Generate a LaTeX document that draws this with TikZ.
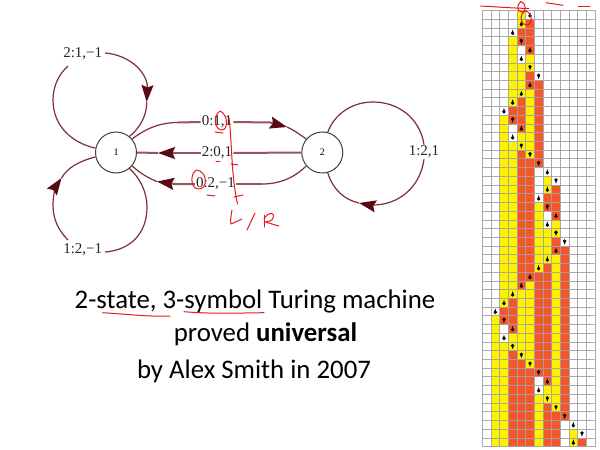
\documentclass[tikz,border=0pt]{standalone}
\usepackage{fontspec}
\setmainfont{Carlito}
\newfontfamily\labfont{Liberation Serif}
\usetikzlibrary{arrows.meta}
\definecolor{cellY}{HTML}{FFF200}
\definecolor{cellO}{HTML}{F4562A}
\definecolor{cellW}{HTML}{FFFFFF}
\definecolor{gridgrey}{HTML}{A3A3A3}
\definecolor{maroon}{HTML}{7E2F38}
\definecolor{maroonlight}{HTML}{96555D}
\definecolor{tipdark}{HTML}{5A0A12}
\definecolor{ink}{HTML}{E8181C}
\tikzset{
  statenode/.style={circle,draw=black!75,line width=1pt,minimum size=41pt,inner sep=0pt,font=\labfont\fontsize{10}{10}\selectfont,fill=white},
  edgelabel/.style={inner sep=1pt,text=black!85,font=\labfont\fontsize{15}{15}\selectfont},
  edge/.style={draw=maroon,line width=1.2pt},
  thickedge/.style={draw=maroonlight,line width=2pt},
  tipped/.style={-{Stealth[length=17pt,width=12pt,inset=2.5pt,color=tipdark]}},
  pen/.style={draw=ink,line width=1pt,line cap=round,line join=round},
  caption/.style={inner sep=0pt,anchor=base,font=\fontsize{26.8}{26.8}\selectfont,text=black}
}
\newcommand{\gridrow}[4]{%
  \foreach \cc/\kk in {#2}{%
    \fill[cell\kk] ({482.3+8.67*\cc},{10.7+8.72*#1}) rectangle ++(8.67,8.72);
  }%
  \ifnum#4=1
    \fill[black,shift={({482.3+8.67*(#3+0.5)},{10.7+8.72*(#1+0.5)})}] (0,-0.8) circle (1.8);
    \fill[black,shift={({482.3+8.67*(#3+0.5)},{10.7+8.72*(#1+0.5)})}] (-1.4,-1.2) -- (0,3) -- (1.4,-1.2) -- cycle;
  \else
    \fill[black,shift={({482.3+8.67*(#3+0.5)},{10.7+8.72*(#1+0.5)})}] (0,0.8) circle (1.8);
    \fill[black,shift={({482.3+8.67*(#3+0.5)},{10.7+8.72*(#1+0.5)})}] (-1.4,1.2) -- (0,-3) -- (1.4,1.2) -- cycle;
  \fi
}
\begin{document}
\begin{tikzpicture}[x=1pt,y=-1pt]
\useasboundingbox (0,0) rectangle (600,450);
\fill[white] (0,0) rectangle (600,450);

% ---- tape history: row, cells, head column, head shape (1 ball on top, 0 spike on top)
\gridrow{0}{4/Y}{5}{0}
\gridrow{1}{4/Y,5/O}{4}{0}
\gridrow{2}{4/O,5/O}{3}{0}
\gridrow{3}{3/Y,4/O,5/O}{4}{1}
\gridrow{4}{3/Y,5/O}{5}{0}
\gridrow{5}{3/Y,5/Y}{4}{0}
\gridrow{6}{3/Y,4/Y,5/Y}{5}{1}
\gridrow{7}{3/Y,4/Y,5/O}{6}{1}
\gridrow{8}{3/Y,4/Y,5/O,6/O}{5}{0}
\gridrow{9}{3/Y,4/Y,5/Y,6/O}{4}{0}
\gridrow{10}{3/Y,4/O,5/Y,6/O}{3}{0}
\gridrow{11}{3/O,4/O,5/Y,6/O}{2}{0}
\gridrow{12}{2/Y,3/O,4/O,5/Y,6/O}{3}{1}
\gridrow{13}{2/Y,4/O,5/Y,6/O}{4}{0}
\gridrow{14}{2/Y,4/Y,5/Y,6/O}{3}{0}
\gridrow{15}{2/Y,3/Y,4/Y,5/Y,6/O}{4}{1}
\gridrow{16}{2/Y,3/Y,4/O,5/Y,6/O}{5}{1}
\gridrow{17}{2/Y,3/Y,4/O,5/O,6/O}{6}{1}
\gridrow{18}{2/Y,3/Y,4/O,5/O}{7}{0}
\gridrow{19}{2/Y,3/Y,4/O,5/O,7/Y}{8}{1}
\gridrow{20}{2/Y,3/Y,4/O,5/O,7/Y,8/O}{7}{0}
\gridrow{21}{2/Y,3/Y,4/O,5/O,7/O,8/O}{6}{0}
\gridrow{22}{2/Y,3/Y,4/O,5/O,6/Y,7/O,8/O}{7}{1}
\gridrow{23}{2/Y,3/Y,4/O,5/O,6/Y,8/O}{8}{0}
\gridrow{24}{2/Y,3/Y,4/O,5/O,6/Y,8/Y}{7}{0}
\gridrow{25}{2/Y,3/Y,4/O,5/O,6/Y,7/Y,8/Y}{8}{1}
\gridrow{26}{2/Y,3/Y,4/O,5/O,6/Y,7/Y,8/O}{9}{1}
\gridrow{27}{2/Y,3/Y,4/O,5/O,6/Y,7/Y,8/O,9/O}{8}{0}
\gridrow{28}{2/Y,3/Y,4/O,5/O,6/Y,7/Y,8/Y,9/O}{7}{0}
\gridrow{29}{2/Y,3/Y,4/O,5/O,6/Y,7/O,8/Y,9/O}{6}{0}
\gridrow{30}{2/Y,3/Y,4/O,5/O,6/O,7/O,8/Y,9/O}{5}{0}
\gridrow{31}{2/Y,3/Y,4/O,5/Y,6/O,7/O,8/Y,9/O}{4}{0}
\gridrow{32}{2/Y,3/Y,4/Y,5/Y,6/O,7/O,8/Y,9/O}{3}{0}
\gridrow{33}{2/Y,3/O,4/Y,5/Y,6/O,7/O,8/Y,9/O}{2}{0}
\gridrow{34}{2/O,3/O,4/Y,5/Y,6/O,7/O,8/Y,9/O}{1}{0}
\gridrow{35}{1/Y,2/O,3/O,4/Y,5/Y,6/O,7/O,8/Y,9/O}{2}{1}
\gridrow{36}{1/Y,3/O,4/Y,5/Y,6/O,7/O,8/Y,9/O}{3}{0}
\gridrow{37}{1/Y,3/Y,4/Y,5/Y,6/O,7/O,8/Y,9/O}{2}{0}
\gridrow{38}{1/Y,2/Y,3/Y,4/Y,5/Y,6/O,7/O,8/Y,9/O}{3}{1}
\gridrow{39}{1/Y,2/Y,3/O,4/Y,5/Y,6/O,7/O,8/Y,9/O}{4}{1}
\gridrow{40}{1/Y,2/Y,3/O,4/O,5/Y,6/O,7/O,8/Y,9/O}{5}{1}
\gridrow{41}{1/Y,2/Y,3/O,4/O,5/O,6/O,7/O,8/Y,9/O}{6}{1}
\gridrow{42}{1/Y,2/Y,3/O,4/O,5/O,7/O,8/Y,9/O}{7}{0}
\gridrow{43}{1/Y,2/Y,3/O,4/O,5/O,7/Y,8/Y,9/O}{6}{0}
\gridrow{44}{1/Y,2/Y,3/O,4/O,5/O,6/Y,7/Y,8/Y,9/O}{7}{1}
\gridrow{45}{1/Y,2/Y,3/O,4/O,5/O,6/Y,7/O,8/Y,9/O}{8}{1}
\gridrow{46}{1/Y,2/Y,3/O,4/O,5/O,6/Y,7/O,8/O,9/O}{9}{1}
\gridrow{47}{1/Y,2/Y,3/O,4/O,5/O,6/Y,7/O,8/O}{10}{0}
\gridrow{48}{1/Y,2/Y,3/O,4/O,5/O,6/Y,7/O,8/O,10/Y}{11}{1}
\gridrow{49}{1/Y,2/Y,3/O,4/O,5/O,6/Y,7/O,8/O,10/Y,11/O}{10}{0}
% grid lines as thin filled bars, so that every line has the same weight
\foreach \i in {0,...,13}{\fill[gridgrey,opacity=0.9] ({481.85+8.67*\i},10.25) rectangle ++(0.9,436.9);}
\foreach \j in {0,...,50}{\fill[gridgrey,opacity=0.9] (481.85,{10.25+8.72*\j}) rectangle ++(113.6,0.9);}

% ---- state machine
\node[statenode] (n1) at (116,152.5) {1};
\node[statenode] (n2) at (322.3,152.5) {2};
\node[edgelabel] (la) at (82.7,54) {2:1,−1};
\node[edgelabel] (lb) at (82.7,250) {1:2,−1};
\node[edgelabel] (lc) at (217,122) {0:1,1};
\node[edgelabel] (ld) at (217,153) {2:0,1};
\node[edgelabel] (le) at (215.5,184) {0:2,−1};
\node[edgelabel] (lf) at (424,152) {1:2,1};
\coordinate (ta) at (146.7,102);
\coordinate (tb) at (61.5,178);
\coordinate (tc) at (287,127);
\coordinate (td) at (158,153);
\coordinate (te) at (157,181.5);
\coordinate (tf) at (359,203);
\coordinate (ga) at (68,66);
\coordinate (gb) at (68,240);
\coordinate (gc) at (105,53);
\coordinate (gd) at (105,252);

% loop 1 top
\draw[edge] (n1.168) .. controls (72,143) and (53,126) .. (53,100) .. controls (53,86) and (59,74) .. (ga);
\draw[edge,tipped] (gc) .. controls (131,55) and (148,74) .. (ta);
\draw[edge] (ta) .. controls (147,115) and (140,128) .. (n1.50);
% loop 1 bottom
\draw[edge] (n1.-50) .. controls (140,178) and (147,192) .. (147,207) .. controls (147,233) and (131,250) .. (gd);
\draw[edge,tipped] (gb) .. controls (59,231) and (53,220) .. (53,205) .. controls (53,195) and (56,186) .. (tb);
\draw[edge] (tb) .. controls (68,167) and (80,161) .. (n1.-168);
% top edge
\draw[edge] (n1.40) .. controls (144,130) and (158,122.5) .. (178,122.5);
\draw[thickedge] (178,122.5) -- (lc.west);
\draw[thickedge,tipped] (lc.east) -- (270,122.5) -- (tc);
\draw[edge] (tc) .. controls (294,130) and (299,134) .. (n2.140);
% middle edge
\draw[thickedge] (n2.west) -- (ld.east);
\draw[thickedge,tipped] (ld.west) -- (td);
\draw[thickedge] (td) -- (n1.east);
% bottom edge
\draw[edge] (n2.-140) .. controls (296,176) and (282,184) .. (262,184);
\draw[thickedge] (262,184) -- (le.east);
\draw[thickedge,tipped] (le.west) -- (175,184) -- (te);
\draw[edge] (te) .. controls (148,178) and (140,173) .. (n1.-40);
% loop 2
\draw[edge] (n2.75) .. controls (335,113) and (353,102) .. (373,102) .. controls (398,102) and (420,118) .. (lf.north);
\draw[edge,tipped] (lf.south) .. controls (420,188) and (398,205) .. (373,205) .. controls (368,205) and (364,204) .. (tf);
\draw[edge] (tf) .. controls (345,200) and (333,190) .. (n2.-75);

% ---- caption
\node[caption] (c1) at (255,308) {2-state, 3-symbol Turing machine};
\node[caption] (c2) at (265.5,341) {proved \textbf{universal}};
\node[caption] (c3) at (254,378) {by Alex Smith in 2007};

% ---- red handwriting
\draw[pen] (102.7,312.7) .. controls (125,314) and (150,317) .. (170,316);
\draw[pen] (184,311.7) .. controls (210,314) and (240,313) .. (264,312.7);
% circled 1, long stroke and ticks
\draw[pen] (220,111) .. controls (213,116) and (214,128) .. (221,130) .. controls (229,131) and (228,114) .. (220,111);
\draw[pen] (229,118) .. controls (232,140) and (231,175) .. (237.5,204);
\draw[pen] (215,132) -- (223,133);
\draw[pen] (216,161) -- (220,161);
\draw[pen] (231,164) -- (238,165);
\draw[pen] (234,197) -- (243,195);
% circled 0
\draw[pen] (197,170) .. controls (190,172) and (190,188) .. (198,189) .. controls (208,190) and (208,172) .. (197,170);
\draw[pen] (207,195) -- (215,196);
% L/R
\draw[pen] (232,210) .. controls (231,216) and (230,222) .. (231,224) -- (242,219);
\draw[pen] (255,213) -- (247,230);
\draw[pen] (264,215) -- (264,227);
\draw[pen] (264,219) .. controls (268,212) and (275,211) .. (273,218) .. controls (272,221) and (268,222) .. (265,222) -- (279,226);
% top marks
\draw[pen] (480.7,6) .. controls (500,7) and (510,8) .. (529,8.5);
\draw[pen] (546,2.7) -- (563,5.3);
\draw[pen] (578,6.7) -- (590,6.7);
\draw[pen] (521,1.5) .. controls (516,5) and (517,12) .. (522,12) .. controls (527,12) and (526,3) .. (521,1.5);
\draw[pen] (525,11) .. controls (520,13) and (519,23) .. (526,25) .. controls (533,26) and (533,12) .. (525,11);
\end{tikzpicture}
\end{document}
